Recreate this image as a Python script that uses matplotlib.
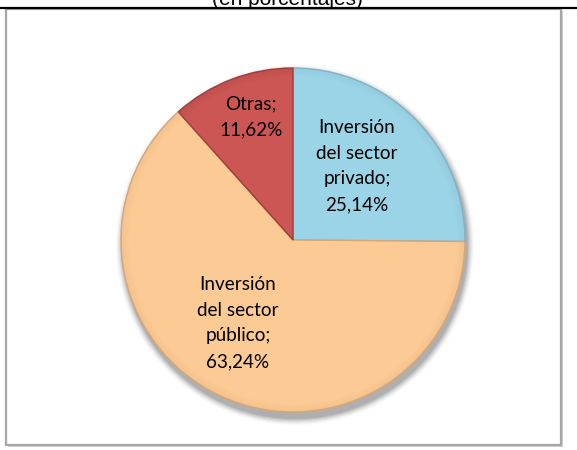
import matplotlib
matplotlib.use("Agg")
import matplotlib.pyplot as plt
from matplotlib.patches import Rectangle, Ellipse, Wedge
import numpy as np

categories = ["Inversión\ndel sector\nprivado", "Inversión\ndel sector\npúblico", "Otras"]
values = [25.14, 63.24, 11.62]
value_labels = ["25,14%", "63,24%", "11,62%"]
colors = ["#9CD4E7", "#FCCB95", "#CB5654"]
edges = ["#7FB3C5", "#D8A575", "#9E3D3B"]
title = "(en porcentajes)"

W, H = 577, 450
fig = plt.figure(figsize=(W / 100, H / 100), dpi=100)
ax = fig.add_axes([0, 0, 1, 1])

# frame with soft shadow
ax.add_patch(Rectangle((8, 3), 555, 436, facecolor="#D0D0D0", edgecolor="none", zorder=0))
ax.add_patch(Rectangle((6, 5), 555, 436, facecolor="white", edgecolor="#A6A6A6", lw=1.6, zorder=1))

# top black rule and clipped title
ax.plot([0, W], [H - 8, H - 8], color="black", lw=1.6, zorder=2, solid_capstyle="butt")
ax.text(287, H - 5, title, ha="center", va="baseline", fontsize=15,
        family=["Liberation Sans", "DejaVu Sans"], color="black", zorder=2)

cx, cy, r = 293, H - 240, 172

# drop shadow
for i, a in enumerate(np.linspace(0.10, 0.02, 6)):
    ax.add_patch(Ellipse((cx + 2, cy - 5), 2 * r + 2 + i * 2.5, 2 * r + 4 + i * 2.5,
                         facecolor="black", alpha=a, edgecolor="none", zorder=2))

wedges, _ = ax.pie(values, colors=colors, startangle=90, counterclock=False,
                   center=(cx, cy), radius=r, frame=True,
                   wedgeprops=dict(linewidth=1.0, zorder=3))
for w, e in zip(wedges, edges):
    w.set_edgecolor(e)
    w.set_zorder(3)
    # soft bevel: darker rim rings fading inward
    for k, a in enumerate(np.linspace(0.22, 0.0, 7)):
        ax.add_patch(Wedge(w.center, w.r - k * 1.3, w.theta1, w.theta2, width=1.3,
                           facecolor=e, edgecolor="none", alpha=a, zorder=3.5))

ax.set_xlim(0, W)
ax.set_ylim(0, H)
ax.set_aspect("auto")
ax.axis("off")

label_pos = [(357, H - 166), (238, H - 323), (251, H - 117)]
for (x, y), cat, vl in zip(label_pos, categories, value_labels):
    ax.text(x, y, f"{cat};\n{vl}", ha="center", va="center", fontsize=13.6,
            family=["Lato", "DejaVu Sans"], color="black", linespacing=1.62, zorder=5)

fig.savefig("out.png", dpi=100)
